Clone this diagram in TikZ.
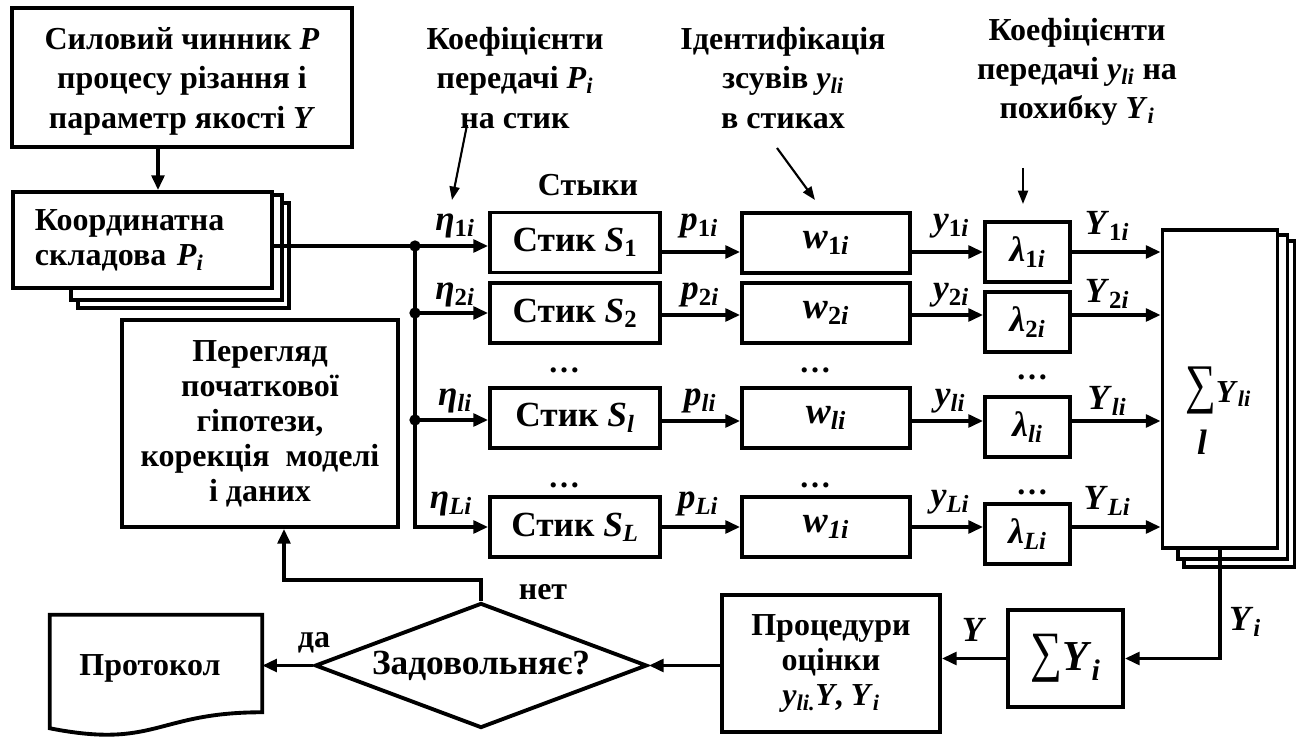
\documentclass[tikz,border=0pt]{standalone}
\usepackage{fontspec}
\setmainfont{Liberation Serif}
\usetikzlibrary{arrows.meta,shapes.geometric,calc}

\newcommand{\vi}[1]{\textit{#1}}
\newcommand{\sbs}[1]{\textsubscript{#1}}

\begin{document}
\begin{tikzpicture}[x=0.75pt,y=-0.75pt,
  every node/.style={font=\fontsize{24}{29.5}\selectfont\bfseries, inner sep=0pt},
  box/.style={draw, line width=2.9pt, align=center},
  sheet/.style={line width=2.9pt},
  wire/.style={line width=2.6pt},
  arr/.style={wire, -{Triangle[length=11pt,width=9.5pt]}},
  pointer/.style={line width=1.6pt, -{Triangle[length=10pt,width=7.5pt]}},
  tight/.style={font=\fontsize{24}{26.3}\selectfont\bfseries},
  big/.style={font=\fontsize{26.5}{30}\selectfont\bfseries},
  sig/.style={font=\fontsize{26.5}{30}\selectfont\bfseries},
  joint/.style={box, big, minimum width=127.5pt, minimum height=45pt},
  wbox/.style={box, font=\fontsize{28}{30}\selectfont\bfseries, minimum width=126pt, minimum height=45pt},
  lbox/.style={box, big, minimum width=63.75pt, minimum height=45pt},
  dot/.style={circle, fill, minimum size=8.5pt},
]
\fill[white] (0,0) rectangle (1297,737);
\useasboundingbox (0,0) rectangle (1297,737);

% ---- source and component boxes
\node[box, minimum width=255pt, minimum height=104.25pt] (src) at (182,77.5)
  {\rule{0pt}{22pt}Силовий чинник \vi{P}\\процесу різання і\\параметр якості \vi{Y}};
\node[box, tight, minimum width=194.25pt, minimum height=72pt, text width=161.25pt, align=left] (coord) at (142.5,240)
  {Координатна\\складова \vi{P}\sbs{\vi{i}}};
% stacked sheets behind the component box
\draw[sheet] ($(coord.south west)+(60,0)$) -- ++(0,10) -| ($(coord.north east)+(8,5)$) -- ($(coord.north east)+(0,5)$);
\draw[sheet] ($(coord.south west)+(67,10)$) -- ++(0,8) -| ($(coord.north east)+(15,13)$) -- ($(coord.north east)+(8,13)$);

\node[box, tight, minimum width=207pt, minimum height=155.25pt] (rev) at (260,423.5)
  {Перегляд\\початкової\\гіпотези,\\корекція~ моделі\\і даних};

% ---- top annotations
\node[align=center] (ann1) at (515,78) {Коефіцієнти\\передачі \vi{P}\sbs{\vi{i}}\\на стик};
\node[align=center] (ann2) at (783,78) {Ідентифікація\\зсувів \vi{y}\sbs{\vi{li}}\\в стиках};
\node[align=center] (ann3) at (1077,72) {Коефіцієнти\\передачі \vi{y}\sbs{\vi{li}} на\\похибку \vi{Y}\sbs{\vi{i}}};
\node (stk) at (588,185) {Стыки};

\coordinate (p1a) at (467,125); \coordinate (p1b) at (452,200);
\coordinate (p2a) at (777,148); \coordinate (p2b) at (815,200);
\coordinate (p3a) at (1023,168); \coordinate (p3b) at (1023,204);
\draw[pointer] (p1a) -- (p1b);
\draw[pointer] (p2a) -- (p2b);
\draw[pointer] (p3a) -- (p3b);

% ---- joints
\node[joint] (s1) at (575,242.5) {Стик \vi{S}\sbs{1}};
\node[joint] (s2) at (575,313) {Стик \vi{S}\sbs{2}};
\node[joint] (sl) at (575,418) {Стик \vi{S}\sbs{\vi{l}}};
\node[joint] (sL) at (575,527) {Стик \vi{S}\sbs{\vi{L}}};

\node[wbox] (w1) at (826,243) {\raisebox{-5pt}{\vi{w}\sbs{1\vi{i}}}};
\node[wbox] (w2) at (826,313) {\raisebox{-5pt}{\vi{w}\sbs{2\vi{i}}}};
\node[wbox] (wl) at (826,418) {\raisebox{-5pt}{\vi{w}\sbs{\vi{li}}}};
\node[wbox] (wL) at (826,527) {\raisebox{-5pt}{\vi{w}\sbs{\vi{1i}}}};

\node[lbox] (l1) at (1027.5,252) {\raisebox{-4pt}{\vi{λ}\sbs{1\vi{i}}}};
\node[lbox] (l2) at (1027.5,322) {\raisebox{-4pt}{\vi{λ}\sbs{2\vi{i}}}};
\node[lbox] (ll) at (1027.5,427) {\raisebox{-4pt}{\vi{λ}\sbs{\vi{li}}}};
\node[lbox] (lL) at (1027.5,534) {\raisebox{-4pt}{\vi{λ}\sbs{\vi{Li}}}};

% ---- summation over joints
\node[box, minimum width=86.25pt, minimum height=238.5pt] (sumL) at (1220,389) {};
\draw[sheet] ($(sumL.south west)+(17,0)$) -- ++(0,9) -| ($(sumL.north east)+(8,7)$) -- ($(sumL.north east)+(0,7)$);
\draw[sheet] ($(sumL.south west)+(23,9)$) -- ++(0,8) -| ($(sumL.north east)+(15,13)$) -- ($(sumL.north east)+(8,13)$);
\node (sumLt) at (1218,390) {\mdseries\scalebox{1.35}[1.7]{∑}\bfseries\vi{Y}\sbs{\vi{li}}};
\node[sig] (sumLl) at (1202,442) {\vi{l}};

\node[box, minimum width=86.25pt, minimum height=72.75pt] (sumY) at (1065.5,658.5)
  {\fontsize{32}{36}\selectfont\mdseries\scalebox{1.05}[1.3]{∑}\bfseries\vi{Y}\sbs{\vi{i}}};
\node[box, tight, minimum width=163.5pt, minimum height=102.75pt] (proc) at (831,663.5)
  {Процедури\\оцінки\\\vi{y}\sbs{\vi{li.}}\vi{Y}, \vi{Y}\sbs{\vi{i}}};
\node[draw, diamond, big, line width=2.9pt, aspect=2.66, minimum width=249pt, minimum height=93.75pt] (dec) at (481,665.5)
  {Задовольняє?};
\node[minimum width=159pt, minimum height=72.75pt] (prot) at (156,663.5) {};
\node (protT) at (150,668) {Протокол};
\draw[sheet] (prot.north west) -- (prot.north east) -- (prot.south east)
  .. controls (prot.south) and ($(prot.south)+(0,37)$) .. ($(prot.south west)+(0,16)$) -- cycle;

% ---- connectors
\coordinate (a0) at (158,0);
\draw[arr] (src.south -| a0) -- (coord.north -| a0);

\coordinate (j1) at (415,246);
\coordinate (j2) at (415,313);
\coordinate (j3) at (415,420);
\draw[wire] (coord.east |- j1) -- (j1);
\draw[arr] (j1) |- (sL.west);
\draw[arr] (j1) -- (j1 -| s1.west);
\draw[arr] (j2) -- (j2 -| s2.west);
\draw[arr] (j3) -- (j3 -| sl.west);
\node[dot] (d1) at (j1) {};
\node[dot] (d2) at (j2) {};
\node[dot] (d3) at (j3) {};

\coordinate (r1) at (0,252);
\coordinate (r2) at (0,315);
\coordinate (r3) at (0,421);
\coordinate (r4) at (0,527);
\foreach \s/\w/\l/\r in {s1/w1/l1/r1, s2/w2/l2/r2, sl/wl/ll/r3, sL/wL/lL/r4}{
  \draw[arr] (\s.east |- \r) -- (\w.west |- \r);
  \draw[arr] (\w.east |- \r) -- (\l.west |- \r);
  \draw[arr] (\l.east |- \r) -- (sumL.west |- \r);
}

\draw[arr] (sumL.south) |- (sumY.east);
\draw[arr] (sumY.west) -- (sumY.west -| proc.east);
\draw[arr] (proc.west |- dec.east) -- (dec.east);
\draw[arr] (dec.west) -- (dec.west -| prot.east);
\coordinate (fb) at (284,580);
\draw[arr] (dec.north) |- (fb) -- (fb |- rev.south);

% ---- signal labels
\node[sig] (eta1) at (455,226) {\vi{η}\sbs{1\vi{i}}};
\node[sig] (eta2) at (455,295) {\vi{η}\sbs{2\vi{i}}};
\node[sig] (etal) at (455,401) {\vi{η}\sbs{\vi{li}}};
\node[sig] (etaL) at (451,504) {\vi{η}\sbs{\vi{Li}}};
\node[sig] (pp1) at (699,226) {\vi{p}\sbs{1\vi{i}}};
\node[sig] (pp2) at (700,295) {\vi{p}\sbs{2\vi{i}}};
\node[sig] (ppl) at (700,401) {\vi{p}\sbs{\vi{li}}};
\node[sig] (ppL) at (698,504) {\vi{p}\sbs{\vi{Li}}};
\node[sig] (y1) at (951,226) {\vi{y}\sbs{1\vi{i}}};
\node[sig] (y2) at (951,295) {\vi{y}\sbs{2\vi{i}}};
\node[sig] (yl) at (950,401) {\vi{y}\sbs{\vi{li}}};
\node[sig] (yL) at (950,502) {\vi{y}\sbs{\vi{Li}}};
\node[sig] (Y1) at (1107,226) {\vi{Y}\sbs{1\vi{i}}};
\node[sig] (Y2) at (1107,294) {\vi{Y}\sbs{2\vi{i}}};
\node[sig] (Yl) at (1107,401) {\vi{Y}\sbs{\vi{li}}};
\node[sig] (YL) at (1107,501) {\vi{Y}\sbs{\vi{Li}}};

\node (dS1) at (564,370) {…};
\node (dS2) at (564,485) {…};
\node (dW1) at (815,370) {…};
\node (dW2) at (815,485) {…};
\node (dL1) at (1032,377) {…};
\node (dL2) at (1032,492) {…};

\node[sig] (lblY) at (974,630) {\vi{Y}};
\node[sig] (lblYi) at (1245,622) {\vi{Y}\sbs{\vi{i}}};
\node (no) at (543,592) {нет};
\node (yes) at (314,643) {да};
\end{tikzpicture}
\end{document}
